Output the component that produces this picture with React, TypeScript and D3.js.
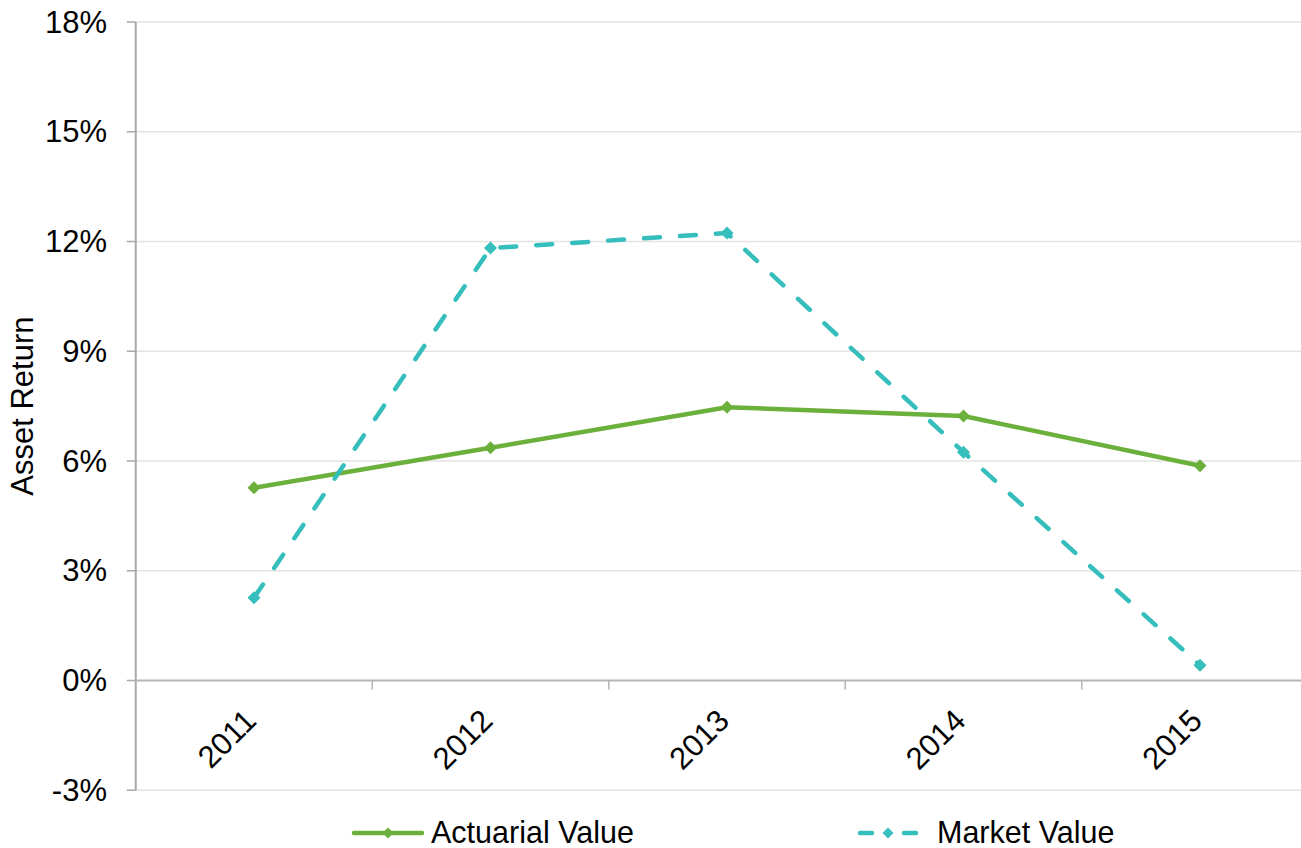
import React from "react";
import * as d3 from "d3";

const years = ["2011", "2012", "2013", "2014", "2015"];
const actuarialValue = [5.27, 6.36, 7.47, 7.23, 5.87];
const marketValue = [2.26, 11.82, 12.23, 6.24, 0.42];
const yTicks = [-3, 0, 3, 6, 9, 12, 15, 18];

const WIDTH = 1301;
const HEIGHT = 848;
const FONT = "'Liberation Sans', Arial, sans-serif";
const GREEN = "#6cb03c";
const TEAL = "#35bebc";

const plotLeft = 135.75;
const band = 236.5;
const plotTop = 22;
const plotBottom = 790.25;

const x = d3
  .scaleBand<string>()
  .domain(years)
  .range([plotLeft, plotLeft + band * years.length])
  .paddingInner(0)
  .paddingOuter(0);
const y = d3.scaleLinear().domain([-3, 18]).range([plotBottom, plotTop]);
const cx = (yr: string) => (x(yr) as number) + x.bandwidth() / 2;

const line = d3
  .line<[string, number]>()
  .x((d) => cx(d[0]))
  .y((d) => y(d[1]));

const diamond = (px: number, py: number, r = 6.5) =>
  `M${px},${py - r}L${px + r},${py}L${px},${py + r}L${px - r},${py}Z`;

export default function App() {
  const right = plotLeft + band * years.length;
  const actPts = years.map((yr, i) => [yr, actuarialValue[i]] as [string, number]);
  const mktPts = years.map((yr, i) => [yr, marketValue[i]] as [string, number]);
  const boundaries = years.slice(1).map((yr) => x(yr) as number);

  return (
    <svg
      width={WIDTH}
      height={HEIGHT}
      style={{ position: "absolute", left: 0, top: 0, background: "#fff" }}
      fontFamily={FONT}
    >
      {/* horizontal gridlines */}
      {yTicks
        .filter((t) => t !== 0)
        .map((t) => (
          <line
            key={t}
            x1={plotLeft}
            x2={right}
            y1={y(t)}
            y2={y(t)}
            stroke="#e3e3e3"
            strokeWidth={1.5}
          />
        ))}
      {/* y axis */}
      <line x1={plotLeft} x2={plotLeft} y1={plotTop} y2={plotBottom} stroke="#a9a9a9" strokeWidth={2} />
      {yTicks.map((t) => (
        <g key={t}>
          <line x1={plotLeft - 9} x2={plotLeft} y1={y(t)} y2={y(t)} stroke="#a9a9a9" strokeWidth={1.5} />
          <text
            x={107}
            y={y(t)}
            textAnchor="end"
            dominantBaseline="central"
            fontSize={31}
            fill="#000"
          >
            {`${t}%`}
          </text>
        </g>
      ))}
      {/* zero line with category ticks */}
      <line x1={plotLeft} x2={right} y1={y(0)} y2={y(0)} stroke="#b5b5b5" strokeWidth={2} />
      {boundaries.map((bx, i) => (
        <line key={i} x1={bx} x2={bx} y1={y(0)} y2={y(0) + 9} stroke="#b5b5b5" strokeWidth={1.5} />
      ))}
      {/* category labels */}
      {years.map((yr) => (
        <text
          key={yr}
          transform={`translate(${cx(yr) + 4},${y(0) + 42}) rotate(-45)`}
          textAnchor="end"
          fontSize={31}
          fill="#000"
        >
          {yr}
        </text>
      ))}
      {/* axis title */}
      <text
        transform={`translate(33,${(plotTop + plotBottom) / 2}) rotate(-90)`}
        textAnchor="middle"
        fontSize={31}
        fill="#000"
      >
        Asset Return
      </text>

      {/* series */}
      <path
        d={line(actPts) as string}
        fill="none"
        stroke={GREEN}
        strokeWidth={4.5}
        strokeLinejoin="round"
      />
      {actPts.map((d) => (
        <path key={d[0]} d={diamond(cx(d[0]), y(d[1]))} fill={GREEN} />
      ))}
      <path
        d={line(mktPts) as string}
        fill="none"
        stroke={TEAL}
        strokeWidth={4.5}
        strokeDasharray="16 20"
        strokeLinecap="round"
        strokeLinejoin="round"
      />
      {mktPts.map((d) => (
        <path key={d[0]} d={diamond(cx(d[0]), y(d[1]))} fill={TEAL} />
      ))}

      {/* legend */}
      <line x1={354} x2={422} y1={833} y2={833} stroke={GREEN} strokeWidth={4.5} strokeLinecap="round" />
      <path d={diamond(388, 833, 5.5)} fill={GREEN} />
      <text x={431} y={843} fontSize={30.5} fill="#000">
        Actuarial Value
      </text>
      <line
        x1={860}
        x2={916}
        y1={833}
        y2={833}
        stroke={TEAL}
        strokeWidth={4.5}
        strokeDasharray="12 32"
        strokeLinecap="round"
      />
      <path d={diamond(888, 833, 5.5)} fill={TEAL} />
      <text x={937} y={843} fontSize={30.5} fill="#000">
        Market Value
      </text>
    </svg>
  );
}
